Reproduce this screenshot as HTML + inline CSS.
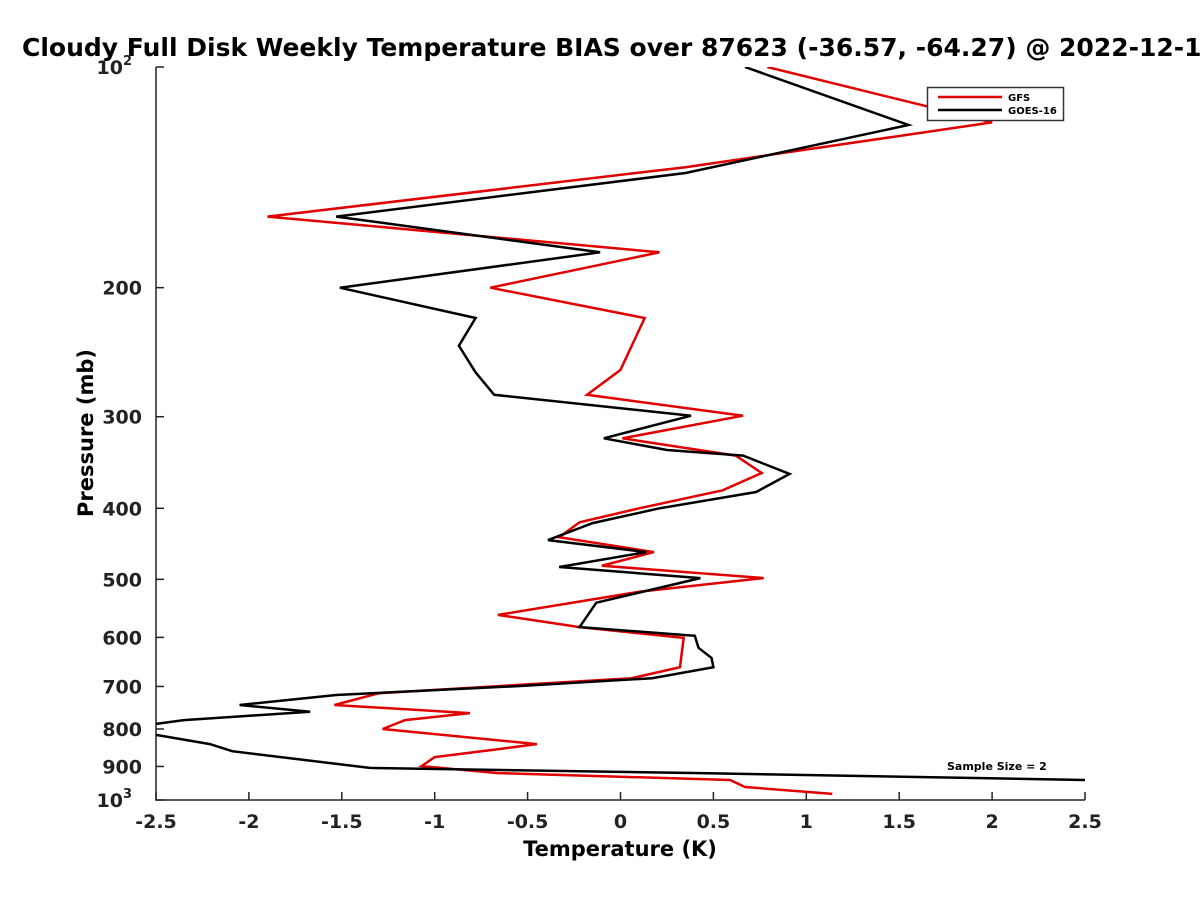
<!DOCTYPE html>
<html><head><meta charset="utf-8"><style>
html,body{margin:0;padding:0;background:#fff;overflow:hidden;}
svg{display:block;font-family:"DejaVu Sans","Liberation Sans",sans-serif;font-weight:bold;}
</style></head><body>
<svg id="chart" width="1200" height="900" viewBox="0 0 1200 900">
<defs><clipPath id="plotclip"><rect x="156" y="67" width="929" height="733"/></clipPath></defs>
<text x="22" y="56" font-size="25" fill="#000">Cloudy Full Disk Weekly Temperature BIAS over 87623 (-36.57, -64.27) @ 2022-12-1</text>
<g id="axes"></g>
<g id="series" clip-path="url(#plotclip)"></g>
<g>
<rect x="927.5" y="87.5" width="136" height="33" fill="#fff" stroke="#333" stroke-width="1.5"/>
<line x1="938" y1="97" x2="1002" y2="97" stroke="#e00000" stroke-width="2.5"/>
<text x="1008" y="101" font-size="10">GFS</text>
<line x1="938" y1="110" x2="1002" y2="110" stroke="#000" stroke-width="2.5"/>
<text x="1008" y="114" font-size="10">GOES-16</text>
</g>
<text x="947" y="770" font-size="11">Sample Size = 2</text>
<text x="620" y="856" font-size="21" text-anchor="middle">Temperature (K)</text>
<text x="0" y="0" font-size="21" text-anchor="middle" transform="translate(93,433) rotate(-90)">Pressure (mb)</text>
</svg>
<script>
const xTicks=[-2.5,-2,-1.5,-1,-0.5,0,0.5,1,1.5,2,2.5];
const yTicks=[100,200,300,400,500,600,700,800,900,1000];
const gfsT=[0.79,2.00,0.35,-1.90,0.21,-0.70,0.13,0.0,-0.18,0.66,0.01,0.62,0.76,0.55,0.10,-0.22,-0.33,0.18,-0.10,0.77,0.10,-0.66,-0.22,0.34,0.32,0.06,-1.30,-1.54,-0.81,-1.16,-1.28,-0.45,-0.65,-1.00,-1.07,-0.66,0.59,0.67,1.14];
const gfsP=[100,119,137,160,179,200,220,259,280,299,321,339,358,378,400,418,438,459,479,498,520,559,581,601,659,682,715,742,761,778,800,839,852,874,899,919,939,960,981];
const goesT=[0.67,1.55,0.73,0.35,-1.53,-0.11,-1.51,-0.78,-0.87,-0.78,-0.68,0.38,-0.09,0.25,0.66,0.91,0.73,0.21,-0.15,-0.39,0.14,-0.33,0.43,-0.13,-0.22,0.40,0.42,0.49,0.50,0.17,-0.54,-1.53,-2.05,-1.67,-2.35,-2.70,-2.50,-2.21,-2.09,-1.35,0.43,2.50,2.53];
const goesP=[100,120,133,139.5,160,179,200,220,240,261,280,299,321,333,339,359,380,400,419,442,459,481,498,538,581,597,620,640,659,682,699,719,742,758,778,800,815,839,858,904,919,939,942];
const NS='http://www.w3.org/2000/svg';
const X0=156,X1=1085,Y0=67,Y1=800,TMIN=-2.5,TMAX=2.5;
function xs(t){return X0+(t-TMIN)/(TMAX-TMIN)*(X1-X0);}
function ys(p){return Y0+(Math.log10(p)-2)*(Y1-Y0);}
const axes=document.getElementById('axes');
function mk(tag,attrs,parent){const e=document.createElementNS(NS,tag);for(const k in attrs)e.setAttribute(k,attrs[k]);parent.appendChild(e);return e;}
const ax=mk('path',{d:`M${X0},${Y0} L${X0},${Y1} L${X1},${Y1}`,fill:'none',stroke:'#222','stroke-width':1.5},axes);


xTicks.forEach(t=>{
  const x=xs(t);
  const l=mk('line',{x1:x,y1:Y1,x2:x,y2:Y1-8,stroke:'#222','stroke-width':1.5},axes);
  
  
  const tx=mk('text',{x:x,y:Y1+28,'font-size':19,'text-anchor':'middle',fill:'#222'},axes);
  tx.textContent=String(t);
  
  
});
yTicks.forEach(p=>{
  const y=ys(p);
  const l=mk('line',{x1:X0,y1:y,x2:X0+8,y2:y,stroke:'#222','stroke-width':1.5},axes);
  
  
  const tx=mk('text',{x:X0-14,y:y+7,'font-size':19,'text-anchor':'end',fill:'#222'},axes);
  if(p===100||p===1000){
    tx.textContent='10';
    const s=mk('tspan',{dy:-9,'font-size':13},tx);s.textContent=(p===100?'2':'3');
    tx.setAttribute('x',X0-24);
  } else tx.textContent=String(p);
  
  
});
const ser=document.getElementById('series');
function line(T,P,color,name){
  const pts=T.map((t,i)=>xs(t).toFixed(1)+','+ys(P[i]).toFixed(1)).join(' ');
  const pl=mk('polyline',{points:pts,fill:'none',stroke:color,'stroke-width':2.5,'stroke-linejoin':'miter'},ser);
  
  
}
line(gfsT,gfsP,'#e00000','gfs-line');
line(goesT,goesP,'#000','goes16-line');
</script>
</body></html>
